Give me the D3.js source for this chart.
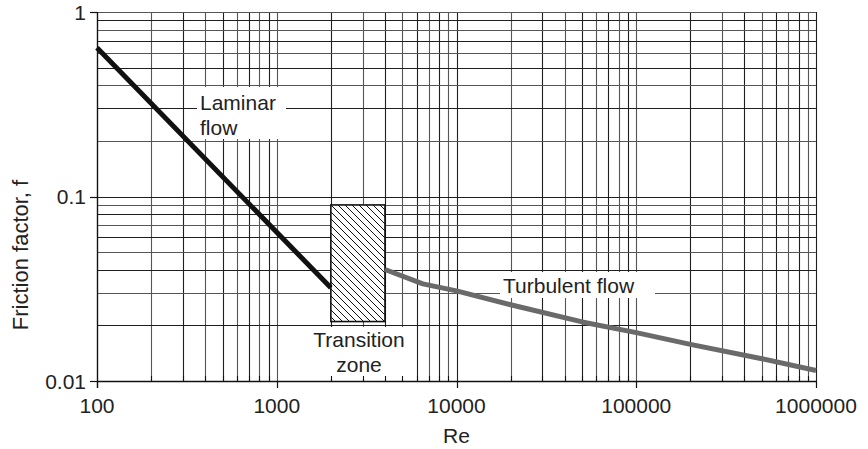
<!DOCTYPE html>
<html>
<head>
<meta charset="utf-8">
<script src="https://cdn.jsdelivr.net/npm/d3@7"></script>
<style>
  html, body { margin: 0; padding: 0; background: #fff; }
  svg { display: block; font-family: "Liberation Sans", Arial, Helvetica, sans-serif; }
</style>
</head>
<body>
<svg id="chart" width="868" height="449"></svg>
<script>
// Friction factor vs Reynolds number (log-log)
const reLaminar = [100, 2000];
const fLaminar = [0.64, 0.032];

const reTurbulent = [4000, 6500, 10000, 20000, 50000, 100000, 200000, 500000, 1000000];
const fTurbulent = [0.0402, 0.0336, 0.0308, 0.0259, 0.0209, 0.0183, 0.0158, 0.0132, 0.0114];

const transitionRe = [2000, 4000];
const transitionF = [0.021, 0.09];

const xTickValues = [100, 1000, 10000, 100000, 1000000];
const xTickLabels = ["100", "1000", "10000", "100000", "1000000"];
const yTickValues = [0.01, 0.1, 1];
const yTickLabels = ["0.01", "0.1", "1"];

const xTitle = "Re";
const yTitle = "Friction factor, f";
const laminarLabel = ["Laminar", "flow"];
const transitionLabel = ["Transition", "zone"];
const turbulentLabel = "Turbulent flow";

(function draw() {
  const svg = d3.select("#chart");
  const plotL = 97, plotR = 816, plotT = 12, plotB = 381;

  const x = d3.scaleLog().domain([100, 1000000]).range([plotL, plotR]);
  const y = d3.scaleLog().domain([0.01, 1]).range([plotB, plotT]);

  // grid values: every 1..9 multiple inside each decade
  function logGrid(lo, hi) {
    const out = [];
    for (let p = Math.round(Math.log10(lo)); p < Math.round(Math.log10(hi)); p++) {
      for (let k = 1; k <= 9; k++) out.push(k * Math.pow(10, p));
    }
    out.push(hi);
    return out;
  }
  const xGrid = logGrid(100, 1000000);
  const yGrid = logGrid(0.01, 1);
  const px = v => Math.round(x(v)) + 0.5;
  const py = v => Math.round(y(v)) + 0.5;

  // hatch pattern for the transition zone
  svg.append("defs").append("pattern")
    .attr("id", "hatch")
    .attr("patternUnits", "userSpaceOnUse")
    .attr("width", 7).attr("height", 7)
    .append("path")
    .attr("d", "M0,0 L7,7 M-1,6 L1,8 M6,-1 L8,1")
    .attr("stroke", "#111").attr("stroke-width", 1);

  const grid = svg.append("g");
  grid.selectAll("line.v").data(xGrid).join("line")
    .attr("class", "v")
    .attr("x1", px).attr("x2", px)
    .attr("y1", plotT).attr("y2", plotB)
    .attr("stroke", (d, i) => i % 2 ? "#555" : "#1e1e1e")
    .attr("stroke-width", 1.1);
  grid.selectAll("line.h").data(yGrid).join("line")
    .attr("class", "h")
    .attr("x1", plotL).attr("x2", plotR)
    .attr("y1", py).attr("y2", py)
    .attr("stroke", (d, i) => i % 2 ? "#1e1e1e" : "#555")
    .attr("stroke-width", 1.1);

  // white panels behind the region labels
  const panels = [
    { x0: 197, x1: 286, y0: 87, y1: 139 },
    { x0: 312, x1: 412, y0: 327, y1: 379 },
    { x0: 500, x1: 655, y0: 272, y1: 298 }
  ];
  svg.append("g").selectAll("rect").data(panels).join("rect")
    .attr("x", d => d.x0).attr("y", d => d.y0)
    .attr("width", d => d.x1 - d.x0).attr("height", d => d.y1 - d.y0)
    .attr("fill", "#fff");

  // axes
  const axisG = svg.append("g").attr("stroke", "#111");
  axisG.append("line").attr("x1", plotL).attr("x2", plotR + 0.5)
    .attr("y1", plotB + 0.5).attr("y2", plotB + 0.5).attr("stroke-width", 1.3);
  axisG.append("line").attr("x1", plotL + 0.5).attr("x2", plotL + 0.5)
    .attr("y1", plotT).attr("y2", plotB + 7).attr("stroke-width", 1.3);

  // minor ticks pointing into the plot along the x axis
  const xMinor = xGrid.filter(v => !xTickValues.includes(v));
  axisG.selectAll("line.mt").data(xMinor).join("line")
    .attr("class", "mt")
    .attr("x1", px).attr("x2", px)
    .attr("y1", plotB - 5).attr("y2", plotB)
    .attr("stroke-width", 1.1);

  // major ticks
  axisG.selectAll("line.xt").data(xTickValues).join("line")
    .attr("class", "xt")
    .attr("x1", px).attr("x2", px)
    .attr("y1", plotB).attr("y2", plotB + 7)
    .attr("stroke-width", 1.2);
  axisG.selectAll("line.yt").data(yTickValues).join("line")
    .attr("class", "yt")
    .attr("x1", plotL - 7).attr("x2", plotL)
    .attr("y1", py).attr("y2", py)
    .attr("stroke-width", 1.2);

  // tick labels
  svg.append("g").selectAll("text").data(xTickValues).join("text")
    .attr("x", d => x(d)).attr("y", 413)
    .attr("text-anchor", "middle")
    .attr("font-size", 21).attr("fill", "#222")
    .text((d, i) => xTickLabels[i]);
  svg.append("g").selectAll("text").data(yTickValues).join("text")
    .attr("x", 86).attr("y", d => y(d) + 7.5)
    .attr("text-anchor", "end")
    .attr("font-size", 21).attr("fill", "#222")
    .text((d, i) => yTickLabels[i]);

  // axis titles
  svg.append("text")
    .attr("x", x(10000)).attr("y", 443)
    .attr("text-anchor", "middle")
    .attr("font-size", 21).attr("fill", "#222")
    .text(xTitle);
  svg.append("text")
    .attr("transform", "translate(28,255) rotate(-90)")
    .attr("text-anchor", "middle")
    .attr("font-size", 22).attr("fill", "#222")
    .text(yTitle);

  // transition zone
  const tz = {
    x: x(transitionRe[0]), y: y(transitionF[1]),
    w: x(transitionRe[1]) - x(transitionRe[0]),
    h: y(transitionF[0]) - y(transitionF[1])
  };
  svg.append("rect")
    .attr("x", tz.x).attr("y", tz.y).attr("width", tz.w).attr("height", tz.h)
    .attr("fill", "#fff");
  svg.append("rect")
    .attr("x", tz.x).attr("y", tz.y).attr("width", tz.w).attr("height", tz.h)
    .attr("fill", "url(#hatch)")
    .attr("stroke", "#111").attr("stroke-width", 1.6);

  // curves
  const line = d3.line().x(d => x(d[0])).y(d => y(d[1]));
  svg.append("path")
    .datum(reLaminar.map((r, i) => [r, fLaminar[i]]))
    .attr("d", line)
    .attr("fill", "none").attr("stroke", "#111").attr("stroke-width", 5);
  svg.append("path")
    .datum(reTurbulent.map((r, i) => [r, fTurbulent[i]]))
    .attr("d", line)
    .attr("fill", "none").attr("stroke", "#6a6a6a").attr("stroke-width", 5)
    .attr("stroke-linejoin", "round");

  // region labels
  const lab = svg.append("g").attr("font-size", 21).attr("fill", "#222");
  lab.append("text").attr("x", 200).attr("y", 110).text(laminarLabel[0]);
  lab.append("text").attr("x", 200).attr("y", 135).text(laminarLabel[1]);
  lab.append("text").attr("x", 359).attr("y", 347).attr("text-anchor", "middle").text(transitionLabel[0]);
  lab.append("text").attr("x", 359).attr("y", 372).attr("text-anchor", "middle").text(transitionLabel[1]);
  lab.append("text").attr("x", 503).attr("y", 293).text(turbulentLabel);
})();
</script>
</body>
</html>
